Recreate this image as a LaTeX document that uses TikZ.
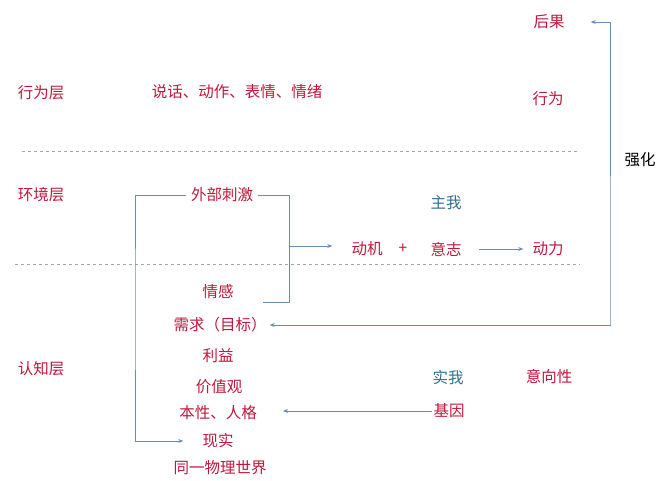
\documentclass[tikz,border=0pt]{standalone}
\usepackage{fontspec}
\setmainfont{Noto Sans CJK SC}
\usetikzlibrary{arrows.meta}
\definecolor{wordred}{HTML}{C0183C}
\definecolor{linkblue}{HTML}{6A8CB0}
\definecolor{egoteal}{HTML}{2F6F8F}

\begin{document}
\begin{tikzpicture}[x=1pt, y=-1pt,
    every node/.style={font=\fontsize{15.5}{17}\selectfont, inner sep=1pt},
    word/.style={text=wordred}, ego/.style={text=egoteal},
    link/.style={draw=linkblue, line width=0.8pt},
    tip/.style={-{Stealth[length=5pt,width=4pt]}},
    layer/.style={draw=gray!70, dashed, line width=0.6pt}]
                \useasboundingbox[fill=white] (0,0) rectangle (664,480);

                % layers
                \node[word] (L1) at (41,93) {行为层};
                \node[word] (L2) at (41,195) {环境层};
                \node[word] (L3) at (41,369) {认知层};
                \draw[layer] (22,151) -- (580,151);
                \draw[layer] (15,264) -- (580,264);

                \node[word] (A) at (237,92) {说话、动作、表情、情绪};
                \node[word] (K) at (549,22) {后果};
                \node[word] (B) at (548,99) {行为};
                \node (Q) at (640,160) {强化};

                \node[word] (S) at (222,195) {外部刺激};
                \node[ego] (I) at (446,203) {主我};
                \node[word] (M) at (367,249) {动机};
                \node[word] (X) at (403,249) {+};
                \node[word] (W) at (446,249) {意志};
                \node[word] (P) at (548,249) {动力};

                \node[word] (E) at (218,292) {情感};
                \node[word] (N) at (220,325) {需求（目标）};
                \node[word] (U) at (218,356) {利益};
                \node[word] (V) at (219,387) {价值观};
                \node[word] (T) at (218,413) {本性、人格};
                \node[word] (R) at (218,441) {现实};
                \node[word] (F) at (220,468) {同一物理世界};
                \node[ego] (J) at (448,378) {实我};
                \node[word] (Y) at (549,377) {意向性};
                \node[word] (G) at (449,411) {基因};

                % connectors
                \coordinate (LB) at (135,300);
                \coordinate (RC) at (289,302);
                \coordinate (EE) at (263,302);
                \coordinate (RM) at (289,246);
                \coordinate (C1) at (610,326);

                \draw[link, tip, shorten <=4pt, shorten >=18pt] (S.west) -| (LB) |- (R.west);
                \draw[link, shorten <=4pt] (S.east) -| (RC) -- (EE);
                \draw[link, tip, shorten >=18pt] (RM) -- (RM -| M.west);
                \draw[link, tip, shorten <=16pt, shorten >=8pt] (W.east) -- (P.west);
                \draw[link, {Stealth[length=5pt,width=4pt]}-{Stealth[length=5pt,width=4pt]}, shorten <=25pt, shorten >=2pt] (K.east) -| (C1) |- (N.east);
                \draw[link, tip, shorten >=25pt] (G.west) -- (G.west -| T.east);
            \end{tikzpicture}
\end{document}
